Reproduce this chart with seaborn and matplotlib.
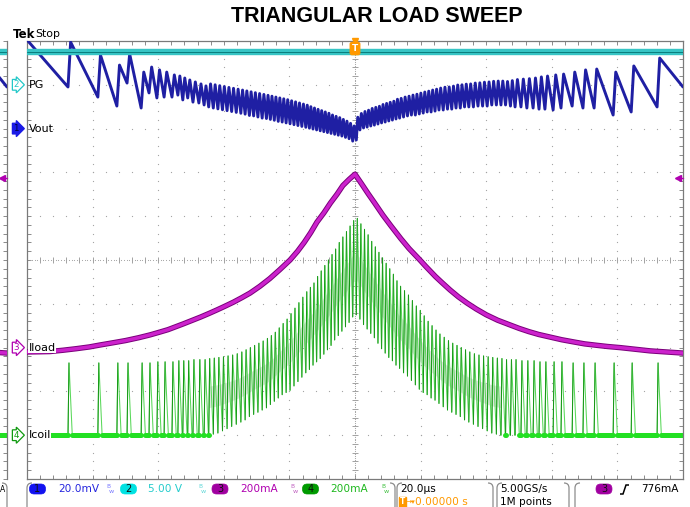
import numpy as np
import pandas as pd
import matplotlib
matplotlib.use("Agg")
import matplotlib.pyplot as plt
from matplotlib.patches import FancyBboxPatch, PathPatch
from matplotlib.path import Path
from matplotlib.transforms import IdentityTransform
import seaborn as sns

W, H = 690, 507

# ---------------- acquisition settings ----------------
TIME_DIV = 20.0                       # us / div
VOUT_SCALE, VOUT_POS = 20.0, 8        # mV / div, marker position (div from bottom)
PG_SCALE, PG_POS = 5.0, 9             # V / div
ILOAD_SCALE, ILOAD_POS = 200.0, 3     # mA / div
ICOIL_SCALE, ICOIL_POS = 200.0, 1     # mA / div
TRIG_LEVEL = 776.0                    # mA, rising edge on Iload

# ---------------- captured waveforms ----------------
pg_t = [-100.0, 100.0]
pg_v = [3.7, 3.7]

iload_t = [-100, -96, -93, -89, -85, -81, -77.7, -73.8, -70, -66, -62.5, -59.7, -57,
           -54.7, -52.4, -49.7, -47, -44.5, -42.1, -39.5, -37, -34.5, -32, -29, -26, -23,
           -19.8, -17.5, -15.5, -13.5, -11.6, -9.5, -7.5, -5.5, -3.7, -1.8, 0,
           2, 4, 6, 8.5, 11, 14, 16.5, 19.8, 21.5, 24.5, 26.5, 29, 31.5, 34.1, 37, 40,
           43.5, 47, 50, 53, 56, 59.5, 63, 67, 70, 74, 77, 80.8, 90, 100]
iload_ma = [-20, -19, -18, -12, -5, 3, 12, 22, 32, 45, 58, 70, 82,
            95, 108, 124, 140, 156, 172, 190, 208, 228, 249, 280, 315, 355,
            400, 440, 480, 525, 573, 615, 660, 700, 740, 768, 792,
            748, 703, 660, 605, 555, 497, 452, 400, 372, 325, 297, 263, 232, 204, 176, 150,
            125, 105, 88, 73, 60, 48, 36, 25, 17, 10, 5, 0, -15, -25]

# switching pulse onsets (us)
pulse_t = [-87.5, -78.4, -72.6, -69.5, -65.2, -62.8, -60.4, -58.2, -55.8, -54.0, -52.5,
           -51.0, -49.4, -47.6, -46.0,
           -44.6, -43.2, -41.8, -40.4, -39.0, -37.6, -36.2, -34.8, -33.5, -32.2, -30.9,
           -29.6, -28.3, -27.0, -25.8, -24.6, -23.4, -22.2, -21.0, -19.8, -18.6, -17.4,
           -16.2, -15.0, -13.9, -12.8, -11.7, -10.6, -9.5, -8.4, -7.3, -6.2, -5.1, -4.0,
           -2.9, -1.8, -0.7,
           0.4, 1.5, 2.6, 3.7, 4.8, 5.9, 7.0, 8.1, 9.2, 10.3, 11.4, 12.5, 13.6, 14.8, 16.0,
           17.2, 18.4, 19.6, 20.8, 22.0, 23.2, 24.4, 25.6, 26.9, 28.2, 29.5, 30.8, 32.1,
           33.4, 34.7, 36.1, 37.5, 38.9, 40.3, 41.7, 43.1, 44.5,
           45.9, 47.4, 48.8, 50.6, 52.4, 54.3, 56.1, 57.9, 60.4, 62.8, 66.2, 69.5, 72.9,
           78.7, 84.2, 92.1]

# inductor current at each pulse: peak and starting valley (mA)
icoil_peak = [330, 330, 330, 330, 330, 330, 335, 335, 335, 340, 340, 340, 345, 345, 345,
              350, 352, 355, 358, 362, 366, 372, 380, 390, 400, 410, 420, 430, 442, 455,
              470, 490, 510, 530, 555, 580, 605, 630, 655, 675, 695, 725, 750, 775, 800,
              825, 850, 880, 905, 930, 955, 980,
              990, 965, 940, 915, 885, 860, 835, 810, 785, 760, 735, 705, 680, 660, 640,
              615, 590, 570, 545, 520, 500, 480, 462, 447, 432, 420, 410, 400, 390, 380,
              372, 366, 362, 358, 355, 352, 350,
              345, 345, 345, 340, 340, 340, 335, 335, 335, 335, 330, 330, 330, 330, 330, 330]
icoil_valley = [0] * 15 + \
               [0, 5, 10, 20, 30, 40, 50, 60, 70, 85, 95, 105, 115, 125, 140, 155, 170,
                185, 195, 205, 225, 245, 265, 285, 300, 320, 335, 350, 370, 390, 410, 435,
                455, 475, 495, 515, 540,
                550, 530, 505, 485, 465, 445, 420, 395, 375, 355, 340, 320, 305, 285, 270,
                250, 230, 210, 195, 185, 170, 160, 145, 130, 115, 105, 95, 85, 70, 60, 50,
                40, 30, 20, 10, 5, 0] + [0] * 16

# output voltage just before and just after each pulse (mV)
vout_pre = [19.0, 14.4, 10.3, 20.8, 9.4, 16.3, 14.0, 14.4, 14.4, 15.3, 13.1, 14.0, 12.1, 11.7, 10.8,
            9.9, 9.4, 9.0, 8.6, 8.2, 7.8, 7.4, 7.0, 6.6, 6.0, 5.8, 5.3, 4.8, 4.6, 4.2, 3.8, 3.3,
            3.0, 2.6, 2.2, 1.8, 1.4, 1.0, 0.6, 0.2, -0.2, -0.6, -1.0, -1.4, -1.8, -2.2, -2.6, -3.0,
            -3.4, -4.0, -4.6, -5.7,
            -5.2, -0.6, 0.3, 0.7, 1.2, 1.6, 2.1, 2.6, 3.0, 3.5, 3.9, 4.4, 4.8, 5.3, 5.8, 6.2,
            6.2, 6.7, 7.1, 7.6, 7.6, 8.0, 8.5, 8.5, 8.9, 8.9, 9.4, 9.4, 9.9, 9.9, 9.9, 10.3,
            10.3, 10.3, 10.8, 10.8, 10.8,
            10.8, 10.3, 9.9, 9.9, 9.4, 9.4, 8.9, 8.9, 8.5, 9.4, 10.3, 9.4, 9.4, 6.2, 7.6, 9.9]
vout_post = [39.5, 33.6, 29.0, 34.1, 25.8, 28.1, 26.8, 25.8, 24.5, 24.0, 23.1, 22.2, 21.3, 20.4, 19.5,
             20.4, 20.0, 19.6, 19.2, 18.8, 18.4, 18.0, 17.6, 17.2, 16.8, 16.4, 16.0, 15.6, 15.2,
             14.8, 14.4, 14.0, 13.6, 13.2, 12.7, 12.2, 11.7, 11.2, 10.7, 10.0, 9.4, 8.8, 8.2, 7.6,
             7.0, 6.2, 5.6, 5.0, 4.2, 3.4, 2.4, 1.2,
             5.2, 6.9, 7.8, 8.4, 9.2, 9.7, 10.2, 11.0, 11.5, 12.0, 12.5, 13.4, 13.8, 14.4, 14.8,
             15.3, 15.7, 16.2, 16.7, 17.1, 17.6, 18.0, 18.5, 18.9, 19.0, 19.4, 19.9, 20.0, 20.3,
             20.4, 20.8, 20.9, 21.2, 21.3, 21.6, 21.7, 21.7,
             21.5, 21.9, 22.4, 22.6, 22.8, 23.1, 23.6, 24.0, 24.5, 24.9, 25.8, 26.8, 27.2, 25.8,
             28.6, 32.2]
vout_start, vout_end = 40.5, 19.0

# ---------------- build trace vertices ----------------
T0, T1 = -5 * TIME_DIV, 5 * TIME_DIV
n = len(pulse_t)

def to_div(vals, scale, pos):
    return pos + np.asarray(vals, dtype=float) / scale

coil_x, coil_y = [T0], [0.0]
rise_rows, flat_rows = [], []
last_zero = T0
for i in range(n):
    t = pulse_t[i]
    t_next = pulse_t[i + 1] if i + 1 < n else T1
    v_next = icoil_valley[i + 1] if i + 1 < n else 0.0
    gap = t_next - t
    r = min(0.3, 0.4 * gap)
    if icoil_valley[i] == 0:
        flat_rows += [(i, last_zero, 0.0), (i, t, 0.0)]
    coil_x += [t, t + r]
    coil_y += [icoil_valley[i], icoil_peak[i]]
    rise_rows += [(i, t, icoil_valley[i]), (i, t + r, icoil_peak[i])]
    if v_next == 0:
        f = min(1.0, gap - r)
        coil_x.append(t + r + f)
        coil_y.append(0.0)
        last_zero = t + r + f
coil_x.append(T1)
coil_y.append(0.0)
flat_rows += [(n, last_zero, 0.0), (n, T1, 0.0)]

rise_df = pd.DataFrame(rise_rows, columns=["seg", "t", "ma"])
rise_df["div"] = to_div(rise_df["ma"], ICOIL_SCALE, ICOIL_POS)
flat_df = pd.DataFrame(flat_rows, columns=["seg", "t", "ma"])
flat_df["div"] = to_div(flat_df["ma"], ICOIL_SCALE, ICOIL_POS)
coil_div = to_div(coil_y, ICOIL_SCALE, ICOIL_POS)

# pale intensity band inside the continuous-conduction cone
pk = np.asarray(icoil_peak, float)
vl = np.asarray(icoil_valley, float)
idx = np.arange(n)
dense = (idx > 14) & (idx < 89)
band_t = np.asarray(pulse_t)[dense]
band_lo = to_div(vl[dense] + 0.36 * (pk[dense] - vl[dense]), ICOIL_SCALE, ICOIL_POS)
band_hi = to_div(pk[dense] - 0.36 * (pk[dense] - vl[dense]), ICOIL_SCALE, ICOIL_POS)

vout_x, vout_y = [T0], [vout_start]
for i in range(n):
    t = pulse_t[i]
    t_next = pulse_t[i + 1] if i + 1 < n else T1
    j = min(0.8, 0.4 * (t_next - t))
    vout_x += [t, t + j]
    vout_y += [vout_pre[i], vout_post[i]]
vout_x.append(T1)
vout_y.append(vout_end)
vout_div = to_div(vout_y, VOUT_SCALE, VOUT_POS)

iload_div = to_div(iload_ma, ILOAD_SCALE, ILOAD_POS)
pg_div = to_div(pg_v, PG_SCALE, PG_POS)
trig_div = ILOAD_POS + TRIG_LEVEL / ILOAD_SCALE

# ---------------- figure ----------------
sns.set_style("white")
plt.rcParams["font.family"] = ["DejaVu Sans"]
plt.rcParams["text.color"] = "black"

fig = plt.figure(figsize=(W / 100, H / 100), dpi=100)
fig.patch.set_facecolor("white")

def fx(px):
    return px / W

def fy(py):
    return 1 - py / H

X0, X1, YT, YB = 27, 683, 41, 479
ax = fig.add_axes([fx(X0), fy(YB), (X1 - X0) / W, (YB - YT) / H])
strip = fig.add_axes([0, fy(YB), 7 / W, (YB - YT) / H])

GRID = "#a2a2a2"
minor_x = np.arange(T0, T1 + 0.01, TIME_DIV / 5)
minor_y = np.arange(0, 10.01, 0.2)

def draw_traces(a):
    a.fill_between(band_t, band_lo, band_hi, color="#dfe7df", lw=0, zorder=1.5)
    sns.lineplot(x=coil_x, y=coil_div, ax=a, sort=False, estimator=None,
                 color="#5ad85a", lw=0.75, zorder=2)
    sns.lineplot(data=rise_df, x="t", y="div", units="seg", estimator=None, sort=False,
                 ax=a, color="#169616", lw=0.7, zorder=2.1)
    sns.lineplot(data=flat_df, x="t", y="div", units="seg", estimator=None, sort=False,
                 ax=a, color="#22e022", lw=3.6, zorder=2.2)
    sns.lineplot(x=iload_t, y=iload_div, ax=a, sort=False, estimator=None,
                 color="#7a007a", lw=3.9, zorder=3)
    sns.lineplot(x=iload_t, y=iload_div, ax=a, sort=False, estimator=None,
                 color="#cc22cc", lw=2.5, zorder=3.1)
    sns.lineplot(x=vout_x, y=vout_div, ax=a, sort=False, estimator=None,
                 color="#1f1fa3", lw=2.1, zorder=3.2)
    sns.lineplot(x=pg_t, y=pg_div, ax=a, sort=False, estimator=None,
                 color="#36c4c4", lw=4.6, zorder=3.3)
    sns.lineplot(x=pg_t, y=pg_div, ax=a, sort=False, estimator=None,
                 color="#0a7d7d", lw=0.7, zorder=3.4)
    a.plot([T1 - 0.9, T1], [trig_div, trig_div], color="#b000b0", lw=1.0,
           zorder=6, clip_on=False)
    a.plot([T1 - 1.6], [trig_div], marker="<", ms=4.5, color="#b000b0",
           zorder=6, clip_on=False)
    a.set_ylim(0, 10)
    a.set_xlabel("")
    a.set_ylabel("")

# graticule
for r in [1, 2, 3, 4, 6, 7, 8, 9]:
    ax.plot(minor_x, np.full_like(minor_x, r), ls="none", marker="o", ms=0.9,
            mec="none", color=GRID, zorder=1)
for c in [-80, -60, -40, -20, 20, 40, 60, 80]:
    ax.plot(np.full_like(minor_y, c), minor_y, ls="none", marker="o", ms=0.9,
            mec="none", color=GRID, zorder=1)
cx = np.arange(T0, T1 + 0.01, TIME_DIV / 25)
ax.plot(cx, np.full_like(cx, 5), ls="none", marker="o", ms=0.8, mec="none",
        color=GRID, zorder=1)
ax.plot(minor_x, np.full_like(minor_x, 5), ls="none", marker="|", ms=4.5,
        mew=0.7, color=GRID, zorder=1)
cy = np.arange(0, 10.01, 0.04)
ax.plot(np.zeros_like(cy), cy, ls="none", marker="o", ms=0.8, mec="none",
        color=GRID, zorder=1)
ax.plot(np.zeros_like(minor_y), minor_y, ls="none", marker="_", ms=4.5,
        mew=0.7, color=GRID, zorder=1)

draw_traces(ax)
ax.set_xlim(T0, T1)
ax.set_xticks(minor_x)
ax.set_yticks(minor_y)
ax.tick_params(axis="both", direction="in", length=3.0, width=0.7, color="#8a8a8a",
               top=True, right=True, bottom=True, left=True,
               labelbottom=False, labelleft=False)
for s in ax.spines.values():
    s.set_color("#7a7a7a")
    s.set_linewidth(0.9)

draw_traces(strip)
strip.set_xlim(T1 - 7 / (X1 - X0) * 10 * TIME_DIV, T1)
strip.set_xticks([])
strip.set_yticks(minor_y)
strip.tick_params(axis="y", direction="in", length=3.0, width=0.7, color="#8a8a8a",
                  left=False, right=True, labelleft=False, labelright=False)
for k, s in strip.spines.items():
    s.set_visible(k == "right")
    s.set_color("#7a7a7a")
    s.set_linewidth(0.9)

# trigger position marker at the top centre
ax.plot([0], [10], marker="v", ms=5, color="#ff9900", clip_on=False, zorder=7)
fig.text(fx(355), fy(48.5), "T", ha="center", va="center", fontsize=6.5,
         color="white", fontweight="bold", zorder=8,
         bbox=dict(boxstyle="round,pad=0.18,rounding_size=0.2", fc="#ff9900", ec="#ff9900"))

# title and status
fig.text(fx(377), fy(17), "TRIANGULAR LOAD SWEEP", ha="center", va="center",
         fontsize=15.5, fontweight="bold", color="black",
         family=["Liberation Sans", "DejaVu Sans"])
fig.text(fx(13), fy(34), "Tek", ha="left", va="center", fontsize=8.5, fontweight="bold",
         color="black")
fig.text(fx(35), fy(34), "Stop", ha="left", va="center", fontsize=7.8, color="black")

# channel markers and names
def ypx(div):
    return YB - div * (YB - YT) / 10

channels = [
    ("2", "PG", PG_POS, "#22c8c8", "white", "#22c8c8", False),
    ("1", "Vout", VOUT_POS, "#1a1ae6", "#1a1ae6", "#000040", False),
    ("3", "Iload", ILOAD_POS, "#b000b0", "white", "#b000b0", True),
    ("4", "Icoil", ICOIL_POS, "#109a10", "white", "#109a10", True),
]
for num, name, pos, ec, fc, tc, boxed in channels:
    y = ypx(pos)
    fig.text(fx(16), fy(y), num, ha="center", va="center", fontsize=6.3, color=tc,
             zorder=9, bbox=dict(boxstyle="rarrow,pad=0.1", fc=fc, ec=ec, lw=0.9))
    kw = dict(bbox=dict(fc="white", ec="none", pad=0.4)) if boxed else {}
    fig.text(fx(28.5), fy(y), name, ha="left", va="center", fontsize=8, zorder=9,
             color="black", **kw)

# ---------------- bottom status bar ----------------
ID = IdentityTransform()

def bracket(x0, x1, y0=483, y1=516, r=5, color="#8c8c8c"):
    Y0, Y1 = H - y0, H - y1
    for xa, sgn in ((x0, 1), (x1, -1)):
        verts = [(xa + sgn * r, Y0), (xa, Y0), (xa, Y0 - r), (xa, Y1 + r),
                 (xa, Y1), (xa + sgn * r, Y1)]
        codes = [Path.MOVETO, Path.CURVE3, Path.CURVE3, Path.LINETO, Path.CURVE3, Path.CURVE3]
        fig.add_artist(PathPatch(Path(verts, codes), fc="none", ec=color, lw=0.9,
                                 transform=ID))

def oval(cx, cy, color, label, w=16, h=10):
    r = h / 2 - 0.3
    p = FancyBboxPatch((cx - w / 2 + r, H - cy - 0.3), w - 2 * r, 0.6,
                       boxstyle=f"round,pad={r},rounding_size={r}",
                       fc=color, ec=color, lw=0.5, transform=ID)
    fig.add_artist(p)
    fig.text(fx(cx), fy(cy), label, ha="center", va="center", fontsize=7, color="#101010")

def txt(px, py, s, **kw):
    fig.text(fx(px), fy(py), s, va="center", **kw)

def bw(px, color):
    txt(px, 487, "B", fontsize=4.2, color=color)
    txt(px + 3, 491.5, "w", fontsize=4.6, color=color)

FS = 7.6
bracket(-100, 7)
txt(0, 490, "A", fontsize=5.5, color="black")
bracket(27, 395)
oval(37.5, 489, "#1212f0", "1")
txt(58, 489, "20.0mV", fontsize=FS, color="#2626de")
bw(106, "#7a7aff")
oval(128.5, 489, "#00e2e2", "2")
txt(148, 489, "5.00 V", fontsize=FS, color="#25cccc")
bw(198, "#60d8d8")
oval(220, 489, "#a000a0", "3")
txt(240, 489, "200mA", fontsize=FS, color="#b000b0")
bw(290, "#c060c0")
oval(310.5, 489, "#009a00", "4")
txt(330, 489, "200mA", fontsize=FS, color="#1fb81f")
bw(381, "#40c040")

bracket(397, 493)
txt(400, 489, "20.0µs", fontsize=FS, color="black")
fig.text(fx(402.5), fy(502), "T", ha="center", va="center", fontsize=5.5, color="white",
         fontweight="bold", bbox=dict(boxstyle="square,pad=0.12", fc="#ff9900", ec="#ff9900"))
txt(405.5, 502, "→▾", fontsize=5.3, color="#ff9900")
txt(415, 502, "0.00000 s", fontsize=FS, color="#ff9900")

bracket(497, 569)
txt(500, 489, "5.00GS/s", fontsize=FS, color="black")
txt(500, 502, "1M points", fontsize=FS, color="black")

bracket(575, 760)
oval(604, 489, "#a000a0", "3")
edge = [(620, H - 494), (623, H - 494), (626, H - 485), (629, H - 485)]
fig.add_artist(PathPatch(Path(edge), fc="none", ec="black", lw=1.1, transform=ID))
txt(641, 489, "776mA", fontsize=FS, color="black")

fig.savefig("out.png", dpi=100, facecolor="white")
